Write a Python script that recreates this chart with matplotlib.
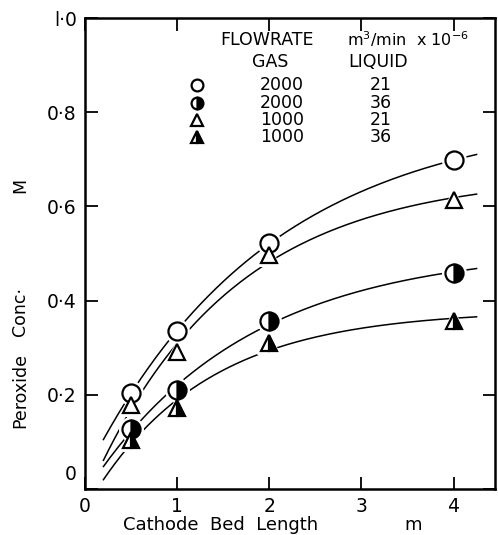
import numpy as np
import matplotlib.pyplot as plt
import matplotlib.transforms as mtransforms

# data
bed_length = [0.5, 1, 2, 4]
conc_g2000_l21 = [0.204, 0.335, 0.522, 0.698]
conc_g2000_l36 = [0.127, 0.210, 0.357, 0.459]
conc_g1000_l21 = [0.178, 0.290, 0.497, 0.614]
conc_g1000_l36 = [0.104, 0.172, 0.310, 0.357]
gas_rates = ['2000', '2000', '1000', '1000']
liquid_rates = ['21', '36', '21', '36']

x_ticks = [0, 1, 2, 3, 4]
x_tick_labels = ['0', '1', '2', '3', '4']
y_ticks = [0, 0.2, 0.4, 0.6, 0.8, 1.0]
y_tick_labels = ['0', '0·2', '0·4', '0·6', '0·8', 'l·0']

series = [conc_g2000_l21, conc_g2000_l36, conc_g1000_l21, conc_g1000_l36]
markers = ['o', 'o', '^', '^']
fills = ['full', 'right', 'full', 'right']
msizes = [13, 13, 12, 12]

plt.rcParams['font.family'] = ['DejaVu Sans']

W, H = 498, 535
fig = plt.figure(figsize=(W / 100, H / 100), dpi=100)
ax = fig.add_axes([85 / W, 1 - 489 / H, 410 / W, 471 / H])


def marker_style(i, legend=False):
    s = dict(marker=markers[i], fillstyle=fills[i], markerfacecolor='black',
             markerfacecoloralt='white', markeredgecolor='black',
             markeredgewidth=1.6, linestyle='none')
    if fills[i] == 'full':
        s['markerfacecolor'] = 'white'
    s['markersize'] = 8.5 if legend else msizes[i]
    return s


def saturating_fit(x, y):
    # y = c + a * (1 - exp(-b x)), b by grid search, a and c by least squares
    x = np.asarray(x, float)
    y = np.asarray(y, float)
    best = None
    for b in np.linspace(0.05, 3, 600):
        A = np.column_stack([np.ones_like(x), 1 - np.exp(-b * x)])
        coef, *_ = np.linalg.lstsq(A, y, rcond=None)
        err = np.sum((A @ coef - y) ** 2)
        if best is None or err < best[0]:
            best = (err, b, coef)
    _, b, (c, a) = best
    return lambda t: c + a * (1 - np.exp(-b * t))


xs = np.linspace(0.2, 4.25, 200)
for i, ys in enumerate(series):
    f = saturating_fit(bed_length, ys)
    ax.plot(xs, f(xs), color='black', lw=1.1, zorder=1)
    # white halo so the line stops short of the marker
    ax.plot(bed_length, ys, marker=markers[i], markersize=msizes[i] + 5,
            color='white', linestyle='none', markeredgewidth=0, zorder=2)
    ax.plot(bed_length, ys, zorder=3, **marker_style(i))

ax.set_xlim(0, 4.45)
ax.set_ylim(0, 1.0)
ax.set_xticks(x_ticks)
ax.set_xticklabels(x_tick_labels)
ax.set_yticks(y_ticks)
ax.set_yticklabels(y_tick_labels)
ax.tick_params(direction='in', length=9, width=1.3, labelsize=13.5,
               top=True, right=True, pad=6)
for sp in ax.spines.values():
    sp.set_linewidth(1.8)

# nudge the y "0" label upward like the original
lbl = ax.get_yticklabels()[0]
lbl.set_transform(lbl.get_transform() +
                  mtransforms.ScaledTranslation(0, 17 / 100, fig.dpi_scale_trans))

# axis labels
fig.text(123 / W, 1 - 525 / H, 'Cathode  Bed  Length', fontsize=13,
         ha='left', va='center')
fig.text(413 / W, 1 - 525 / H, 'm', fontsize=13, ha='center', va='center')
fig.text(20 / W, 1 - 390 / H, 'Peroxide', fontsize=12.5, rotation=90,
         ha='center', va='center')
fig.text(20 / W, 1 - 312 / H, 'Conc·', fontsize=12.5, rotation=90,
         ha='center', va='center')
fig.text(20 / W, 1 - 185 / H, 'M', fontsize=12.5, rotation=90,
         ha='center', va='center')


# legend table
def axpos(px, py):
    return (px - 85) / 410, (489 - py) / 471


ax.text(*axpos(220, 40), 'FLOWRATE', transform=ax.transAxes, fontsize=12.5,
        ha='left', va='center')
ax.text(*axpos(347, 39), r'm$^3$/min  x 10$^{-6}$', transform=ax.transAxes,
        fontsize=11.5, ha='left', va='center')
ax.text(*axpos(270, 62), 'GAS', transform=ax.transAxes, fontsize=12.5,
        ha='center', va='center')
ax.text(*axpos(378, 62), 'LIQUID', transform=ax.transAxes, fontsize=12.5,
        ha='center', va='center')
row_y = [85, 103, 120, 137]
for i in range(4):
    mx, my = axpos(197, row_y[i])
    ax.plot([mx], [my], transform=ax.transAxes, clip_on=False,
            **marker_style(i, legend=True))
    ax.text(*axpos(282, row_y[i]), gas_rates[i], transform=ax.transAxes,
            fontsize=12.5, ha='center', va='center')
    ax.text(*axpos(381, row_y[i]), liquid_rates[i], transform=ax.transAxes,
            fontsize=12.5, ha='center', va='center')

fig.savefig('out.png', dpi=100)
